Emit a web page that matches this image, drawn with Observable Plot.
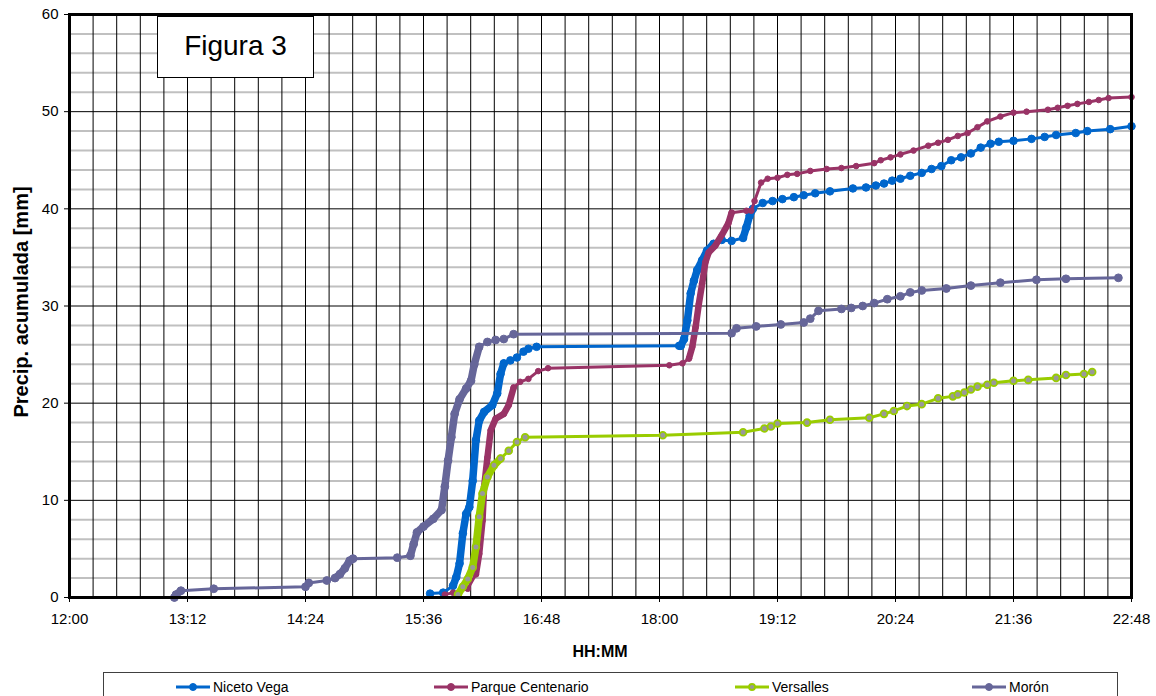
<!DOCTYPE html>
<html>
<head>
<meta charset="utf-8">
<script src="https://cdn.jsdelivr.net/npm/d3@7"></script>
<script src="https://cdn.jsdelivr.net/npm/@observablehq/plot@0.6"></script>
<style>
  html, body { margin: 0; padding: 0; background: #fff; }
  #wrap { position: relative; width: 1156px; height: 696px; overflow: hidden; font-family: "Liberation Sans", Arial, sans-serif; }
  #chart { position: absolute; left: 0; top: 0; }
  .fig { position: absolute; left: 157px; top: 16px; width: 157px; height: 62px; border: 1px solid #000; background: #fff;
         display: flex; align-items: center; justify-content: center; font-size: 28px; color: #000; box-sizing: border-box; padding-bottom: 2px; }
  .ylab { position: absolute; left: 21px; top: 302px; transform: translate(-50%, -50%) rotate(-90deg); white-space: nowrap;
          font-weight: bold; font-size: 20px; color: #000; }
  .xlab { position: absolute; left: 600px; top: 652px; transform: translate(-50%, -50%); font-weight: bold; font-size: 16px; color: #000; }
  .legend { position: absolute; left: 103px; top: 672px; width: 1015px; height: 40px; border: 1px solid #404040; box-sizing: border-box; background: #fff; }
  .item { position: absolute; top: 5px; height: 18px; display: flex; align-items: center; font-size: 14px; color: #000; }
</style>
</head>
<body>
<div id="wrap">
  <div id="chart"></div>
  <div class="fig">Figura 3</div>
  <div class="ylab">Precip. acumulada [mm]</div>
  <div class="xlab">HH:MM</div>
  <div class="legend" id="legend"></div>
</div>
<script>
// ---------- data ----------
const seriesNames = ["Niceto Vega", "Parque Centenario", "Versalles", "Morón"];
const seriesColors = ["#0066CC", "#993366", "#99CC00", "#666699"];

const xTickLabels = ["12:00","13:12","14:24","15:36","16:48","18:00","19:12","20:24","21:36","22:48"];
const yTickValues = [0, 10, 20, 30, 40, 50, 60];

const nicetoTime = ["15:40","15:48","15:54","15:56","15:58","16:00","16:02","16:04","16:06","16:08","16:10","16:13","16:18","16:21","16:23","16:25","16:29","16:33","16:37","16:40","16:45",
  "18:12","18:13","18:15","18:17","18:19","18:21","18:23","18:26","18:29","18:33","18:38","18:44","18:51","18:53","18:55","18:57",
  "19:03","19:09","19:15","19:22","19:28","19:35","19:44","19:58","20:06","20:12","20:17","20:22","20:27","20:33","20:40","20:46","20:52","20:58",
  "21:04","21:10","21:16","21:22","21:27","21:36","21:47","21:55","22:02","22:14","22:21","22:35","22:48"];
const nicetoValue = [0.4,0.5,1.2,2.1,3.5,6.6,8.6,9.3,12.0,16.2,18.2,19.1,19.8,21.0,23.0,24.1,24.4,24.7,25.3,25.6,25.8,
  25.9,25.9,26.6,28.5,31.3,32.6,33.7,34.7,35.7,36.4,36.8,36.7,37.0,38.1,39.3,40.0,
  40.6,40.8,41.0,41.2,41.4,41.6,41.8,42.1,42.2,42.4,42.6,42.9,43.1,43.4,43.7,44.1,44.4,45.0,
  45.3,45.7,46.3,46.7,46.9,47.0,47.2,47.4,47.6,47.8,48.0,48.2,48.5];

const parqueTime = ["15:49","15:54","16:03","16:08","16:10","16:12","16:13","16:15","16:17","16:20","16:25","16:28","16:31","16:35","16:40","16:46","16:52",
  "18:06","18:14","18:18","18:20","18:22","18:24","18:26","18:28","18:30","18:34","18:38","18:42","18:44","18:53","18:56","18:58",
  "19:02","19:06","19:12","19:18","19:24","19:32","19:42","19:51","20:00","20:11","20:15","20:21","20:27","20:35","20:44","20:50","20:56",
  "21:02","21:08","21:14","21:20","21:28","21:36","21:44","21:57","22:03","22:09","22:15","22:22","22:28","22:34","22:48"];
const parqueValue = [0.3,0.5,0.9,2.4,4.5,7.9,11.4,14.4,17.2,18.4,18.9,19.8,21.6,22.2,22.5,23.3,23.6,
  23.9,24.1,24.6,25.8,27.8,30.2,32.3,34.5,35.5,36.2,37.3,38.5,39.6,39.8,39.8,40.8,
  42.7,43.1,43.2,43.5,43.6,43.9,44.1,44.2,44.4,44.7,45.0,45.3,45.6,46.0,46.5,46.8,47.1,
  47.5,47.8,48.4,49.0,49.5,49.9,50.0,50.2,50.4,50.6,50.8,51.0,51.2,51.4,51.5];

const versallesTime = ["15:57","16:00","16:03","16:06","16:08","16:10","16:12","16:15","16:19","16:23","16:28","16:33","16:38",
  "18:02","18:51","19:04","19:08","19:12","19:30","19:44","20:08","20:17","20:23","20:31","20:40","20:50","20:59",
  "21:02","21:06","21:10","21:14","21:20","21:24","21:36","21:45","22:02","22:08","22:19","22:24"];
const versallesValue = [0.3,1.1,1.9,3.1,5.2,8.3,10.7,12.4,13.6,14.3,15.1,16.0,16.5,
  16.7,17.0,17.4,17.6,17.9,18.0,18.3,18.5,18.9,19.2,19.7,19.9,20.5,20.7,
  20.9,21.1,21.4,21.7,21.9,22.1,22.3,22.4,22.6,22.9,23.0,23.2];

const moronTime = ["13:04","13:05","13:08","13:28","14:24","14:26","14:37","14:42","14:45","14:48","14:51","14:53","15:20","15:28","15:30","15:32","15:36","15:42","15:47",
  "15:49","15:51","15:53","15:55","15:58","16:02","16:05","16:07","16:10","16:15","16:20","16:25","16:31",
  "18:44","18:47","18:59","19:14","19:28","19:32","19:37","19:51","19:57","20:04","20:11","20:19","20:27","20:33","20:40","20:55",
  "21:10","21:28","21:50","22:08","22:40"];
const moronValue = [0.0,0.3,0.7,0.9,1.1,1.5,1.75,2.0,2.4,3.0,3.8,4.0,4.1,4.3,5.5,6.7,7.3,8.1,9.0,
  11.4,14.1,16.5,18.9,20.4,21.5,22.3,24.0,25.8,26.3,26.5,26.6,27.1,
  27.2,27.7,27.9,28.1,28.3,28.7,29.5,29.7,29.8,30.0,30.3,30.7,31.0,31.4,31.6,31.8,
  32.1,32.4,32.7,32.8,32.9];

// time spans in which each station logged densely (drawn as a heavier trace, as in the original)
const nicetoDense = [["15:54","16:25"],["18:13","18:33"],["18:51","18:57"]];
const parqueDense = [["16:08","16:31"],["18:18","18:44"]];
const versallesDense = [["15:57","16:23"]];
const moronDense = [["13:04","13:08"],["14:42","14:53"],["15:28","16:10"]];

// ---------- helpers ----------
const toMin = s => { const [h, m] = s.split(":").map(Number); return h * 60 + m; };
const build = (name, times, vals) => times.map((t, i) => ({name, t: toMin(t), v: vals[i]}));
const dense = (rows, spans) => spans.flatMap((sp, k) => {
  const a = toMin(sp[0]), b = toMin(sp[1]);
  return rows.filter(d => d.t >= a && d.t <= b).map(d => ({...d, seg: k}));
});

const niceto = build(seriesNames[0], nicetoTime, nicetoValue);
const parque = build(seriesNames[1], parqueTime, parqueValue);
const versalles = build(seriesNames[2], versallesTime, versallesValue);
const moron = build(seriesNames[3], moronTime, moronValue);

const xTicks = xTickLabels.map(toMin);
const xMin = xTicks[0], xMax = xTicks[xTicks.length - 1];
const labelOf = new Map(xTicks.map((v, i) => [v, xTickLabels[i]]));
const minorStep = (xTicks[1] - xTicks[0]) / 5;
const xGrid = d3.range(0, 46).map(i => xMin + i * minorStep);
const yMinor = d3.range(0, 31).map(i => i * 2).filter(v => v % 10 !== 0);
const yMajor = yTickValues.filter(v => v > 0 && v < 60);

const seriesMarks = (rows, spans, color, opts) => [
  Plot.line(rows, {x: "t", y: "v", stroke: color, strokeWidth: 3}),
  Plot.line(dense(rows, spans), {x: "t", y: "v", z: "seg", stroke: color, strokeWidth: opts.heavy, strokeLinecap: "round", strokeLinejoin: "round"}),
  Plot.dot(rows, {x: "t", y: "v", r: opts.r, fill: opts.fill || color, stroke: color, strokeWidth: opts.sw || 1})
];

const chart = Plot.plot({
  width: 1156,
  height: 665,
  marginLeft: 69,
  marginRight: 25,
  marginTop: 14,
  marginBottom: 68,
  style: {fontFamily: "'Liberation Sans', Arial, sans-serif", fontSize: "15px", background: "transparent", color: "#000"},
  x: {type: "linear", domain: [xMin, xMax]},
  y: {domain: [0, 60]},
  marks: [
    Plot.ruleY(yMinor, {stroke: "#c0c0c0", strokeWidth: 2}),
    Plot.ruleX(xGrid, {stroke: "#000", strokeWidth: 1}),
    Plot.ruleY(yMajor, {stroke: "#000", strokeWidth: 1}),

    ...seriesMarks(niceto, nicetoDense, seriesColors[0], {heavy: 7.5, r: 3.8}),
    ...seriesMarks(parque, parqueDense, seriesColors[1], {heavy: 6.5, r: 2.8}),
    ...seriesMarks(versalles, versallesDense, seriesColors[2], {heavy: 7.5, r: 3.4, fill: "#999999", sw: 1.8}),
    ...seriesMarks(moron, moronDense, seriesColors[3], {heavy: 7.5, r: 3.9}),

    Plot.frame({stroke: "#000", strokeWidth: 3}),
    Plot.axisX({ticks: xTicks, tickFormat: v => labelOf.get(v), tickSize: 5, tickPadding: 11, label: null, fontSize: 15, tickStrokeWidth: 1.5}),
    Plot.axisY({ticks: yTickValues, tickSize: 5, tickPadding: 6, label: null, fontSize: 15})
  ]
});
document.getElementById("chart").appendChild(chart);

// ---------- legend ----------
const legend = document.getElementById("legend");
const legendLeft = [174, 432, 733, 970];
seriesNames.forEach((name, i) => {
  const item = document.createElement("div");
  item.className = "item";
  item.style.left = (legendLeft[i] - 103) + "px";
  const isV = i === 2;
  const dotFill = isV ? "#999999" : seriesColors[i];
  item.innerHTML = `<svg width="36" height="12" style="margin-right:2px"><line x1="1" y1="6" x2="35" y2="6" stroke="${seriesColors[i]}" stroke-width="3"/>` +
    `<circle cx="18" cy="6" r="${isV ? 3 : 3.5}" fill="${dotFill}" stroke="${seriesColors[i]}" stroke-width="${isV ? 1.8 : 1}"/></svg><span>${name}</span>`;
  legend.appendChild(item);
});
</script>
</body>
</html>
